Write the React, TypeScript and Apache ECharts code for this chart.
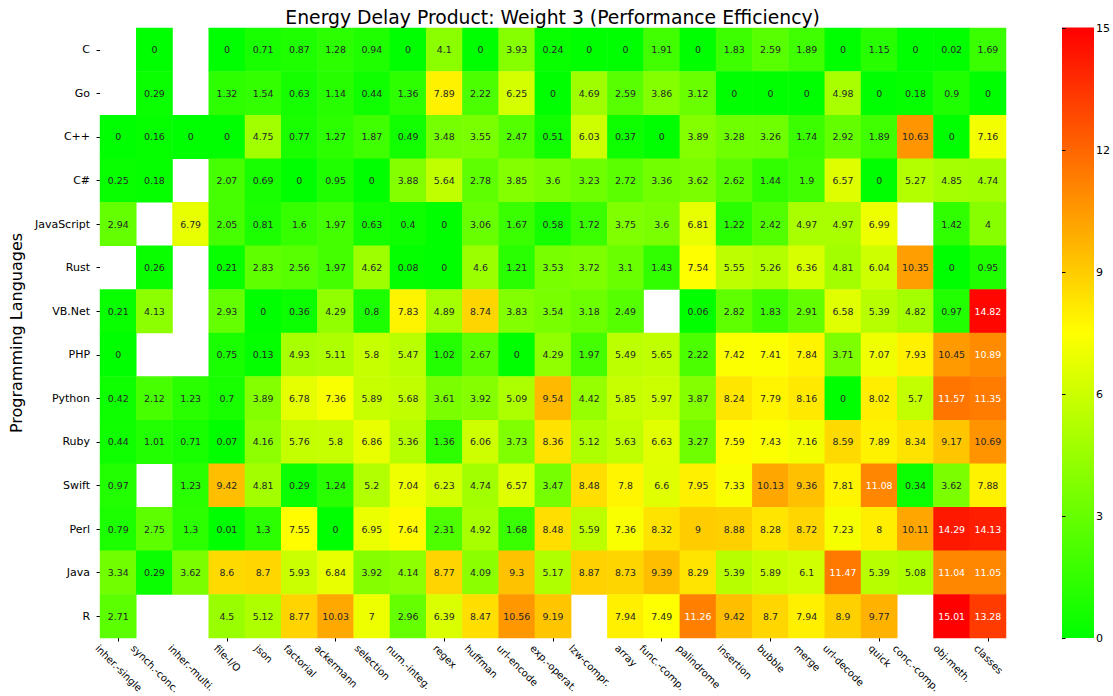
import React, { useEffect, useRef } from 'react';
import * as echarts from 'echarts';

const FONT = 'DejaVu Sans';

const languages = ['C', 'Go', 'C++', 'C#', 'JavaScript', 'Rust', 'VB.Net', 'PHP', 'Python', 'Ruby', 'Swift', 'Perl', 'Java', 'R'];

const benchmarks = [
  'inher.-single', 'synch.-conc.', 'inher.-multi.', 'file-I/O', 'json', 'factorial', 'ackermann',
  'selection', 'num.-integ.', 'regex', 'huffman', 'url-encode', 'exp.-operat.', 'lzw-compr.',
  'array', 'func.-comp.', 'palindrome', 'insertion', 'bubble', 'merge', 'url-decode', 'quick',
  'conc.-comp.', 'obj-meth.', 'classes',
];

const rowC = [null, 0, null, 0, 0.71, 0.87, 1.28, 0.94, 0, 4.1, 0, 3.93, 0.24, 0, 0, 1.91, 0, 1.83, 2.59, 1.89, 0, 1.15, 0, 0.02, 1.69];
const rowGo = [null, 0.29, null, 1.32, 1.54, 0.63, 1.14, 0.44, 1.36, 7.89, 2.22, 6.25, 0, 4.69, 2.59, 3.86, 3.12, 0, 0, 0, 4.98, 0, 0.18, 0.9, 0];
const rowCpp = [0, 0.16, 0, 0, 4.75, 0.77, 1.27, 1.87, 0.49, 3.48, 3.55, 2.47, 0.51, 6.03, 0.37, 0, 3.89, 3.28, 3.26, 1.74, 2.92, 1.89, 10.63, 0, 7.16];
const rowCs = [0.25, 0.18, null, 2.07, 0.69, 0, 0.95, 0, 3.88, 5.64, 2.78, 3.85, 3.6, 3.23, 2.72, 3.36, 3.62, 2.62, 1.44, 1.9, 6.57, 0, 5.27, 4.85, 4.74];
const rowJs = [2.94, null, 6.79, 2.05, 0.81, 1.6, 1.97, 0.63, 0.4, 0, 3.06, 1.67, 0.58, 1.72, 3.75, 3.6, 6.81, 1.22, 2.42, 4.97, 4.97, 6.99, null, 1.42, 4];
const rowRust = [null, 0.26, null, 0.21, 2.83, 2.56, 1.97, 4.62, 0.08, 0, 4.6, 1.21, 3.53, 3.72, 3.1, 1.43, 7.54, 5.55, 5.26, 6.36, 4.81, 6.04, 10.35, 0, 0.95];
const rowVb = [0.21, 4.13, null, 2.93, 0, 0.36, 4.29, 0.8, 7.83, 4.89, 8.74, 3.83, 3.54, 3.18, 2.49, null, 0.06, 2.82, 1.83, 2.91, 6.58, 5.39, 4.82, 0.97, 14.82];
const rowPhp = [0, null, null, 0.75, 0.13, 4.93, 5.11, 5.8, 5.47, 1.02, 2.67, 0, 4.29, 1.97, 5.49, 5.65, 2.22, 7.42, 7.41, 7.84, 3.71, 7.07, 7.93, 10.45, 10.89];
const rowPython = [0.42, 2.12, 1.23, 0.7, 3.89, 6.78, 7.36, 5.89, 5.68, 3.61, 3.92, 5.09, 9.54, 4.42, 5.85, 5.97, 3.87, 8.24, 7.79, 8.16, 0, 8.02, 5.7, 11.57, 11.35];
const rowRuby = [0.44, 1.01, 0.71, 0.07, 4.16, 5.76, 5.8, 6.86, 5.36, 1.36, 6.06, 3.73, 8.36, 5.12, 5.63, 6.63, 3.27, 7.59, 7.43, 7.16, 8.59, 7.89, 8.34, 9.17, 10.69];
const rowSwift = [0.97, null, 1.23, 9.42, 4.81, 0.29, 1.24, 5.2, 7.04, 6.23, 4.74, 6.57, 3.47, 8.48, 7.8, 6.6, 7.95, 7.33, 10.13, 9.36, 7.81, 11.08, 0.34, 3.62, 7.88];
const rowPerl = [0.79, 2.75, 1.3, 0.01, 1.3, 7.55, 0, 6.95, 7.64, 2.31, 4.92, 1.68, 8.48, 5.59, 7.36, 8.32, 9, 8.88, 8.28, 8.72, 7.23, 8, 10.11, 14.29, 14.13];
const rowJava = [3.34, 0.29, 3.62, 8.6, 8.7, 5.93, 6.84, 3.92, 4.14, 8.77, 4.09, 9.3, 5.17, 8.87, 8.73, 9.39, 8.29, 5.39, 5.89, 6.1, 11.47, 5.39, 5.08, 11.04, 11.05];
const rowR = [2.71, null, null, 4.5, 5.12, 8.77, 10.03, 7, 2.96, 6.39, 8.47, 10.56, 9.19, null, 7.94, 7.49, 11.26, 9.42, 8.7, 7.94, 8.9, 9.77, null, 15.01, 13.28];

const values: (number | null)[][] = [rowC, rowGo, rowCpp, rowCs, rowJs, rowRust, rowVb, rowPhp, rowPython, rowRuby, rowSwift, rowPerl, rowJava, rowR];

const colorbarTicks = [0, 3, 6, 9, 12, 15];
const colorStops = ['#00ff00', '#ffff00', '#ff0000'];
const colorMax = 15.01;

export default function App() {
  const ref = useRef<HTMLDivElement>(null);

  useEffect(() => {
    const el = ref.current!;
    const chart = echarts.init(el, null, { renderer: 'svg' });

    const data: any[] = [];
    values.forEach((row, r) =>
      row.forEach((v, c) => {
        if (v !== null) {
          data.push({ value: [c, r, v], label: { color: v > 10.8 ? '#ffffff' : '#262626' } });
        }
      })
    );

    const gridLeft = 89.3;
    const gridTop = 28;
    const gridW = 916.7;
    const gridH = 610;
    const cbLeft = 1062;
    const cbW = 32;
    const tickFs = 11;

    chart.setOption({
      animation: false,
      title: {
        text: 'Energy Delay Product: Weight 3 (Performance Efficiency)',
        left: gridLeft + gridW / 2,
        textAlign: 'center',
        top: 1,
        textStyle: { fontFamily: FONT, fontSize: 18.8, fontWeight: 'normal', color: '#000', lineHeight: 22 },
      },
      grid: [
        { left: gridLeft, top: gridTop, width: gridW, height: gridH },
        { left: cbLeft, top: gridTop, width: cbW, height: gridH },
      ],
      xAxis: [
        {
          type: 'category',
          gridIndex: 0,
          data: benchmarks,
          axisLine: { show: false },
          axisTick: { show: true, length: 3.5, alignWithLabel: true, lineStyle: { color: '#000' } },
          axisLabel: { show: false },
          splitLine: { show: false },
        },
        { type: 'value', gridIndex: 1, show: false },
      ],
      yAxis: [
        {
          type: 'category',
          gridIndex: 0,
          data: languages,
          inverse: true,
          axisLine: { show: false },
          axisTick: { show: true, length: 3.5, alignWithLabel: true, lineStyle: { color: '#000' } },
          axisLabel: { fontFamily: FONT, fontSize: tickFs, color: '#000', margin: 10 },
          splitLine: { show: false },
          name: 'Programming Languages',
          nameLocation: 'middle',
          nameGap: 64,
          nameTextStyle: { fontFamily: FONT, fontSize: 16, color: '#000' },
        },
        {
          type: 'value',
          gridIndex: 1,
          position: 'right',
          min: colorbarTicks[0],
          max: colorbarTicks[colorbarTicks.length - 1],
          interval: 3,
          axisLine: { show: false },
          axisTick: { show: true, length: 3.5, lineStyle: { color: '#000' } },
          axisLabel: { fontFamily: FONT, fontSize: tickFs, color: '#000', margin: 7 },
          splitLine: { show: false },
        },
      ],
      visualMap: {
        type: 'continuous',
        show: false,
        min: 0,
        max: colorMax,
        seriesIndex: 0,
        inRange: { color: colorStops },
      },
      series: [
        {
          type: 'heatmap',
          xAxisIndex: 0,
          yAxisIndex: 0,
          data,
          label: {
            show: true,
            fontFamily: FONT,
            fontSize: 9.4,
            formatter: (p: any) => String(p.value[2]),
          },
          itemStyle: { borderWidth: 0 },
          emphasis: { disabled: true },
        },
      ],
    });

    // colour bar drawn against the colour-bar axis
    const yBottom = chart.convertToPixel({ yAxisIndex: 1 }, 0) as number;
    const yTopCb = chart.convertToPixel({ yAxisIndex: 1 }, colorMax) as number;
    const colorbar = {
      type: 'rect',
      silent: true,
      z: -1,
      shape: { x: cbLeft, y: yTopCb, width: cbW, height: yBottom - yTopCb },
      style: {
        fill: new echarts.graphic.LinearGradient(0, 1, 0, 0, colorStops.map((c, i) => ({
          offset: i / (colorStops.length - 1),
          color: c,
        }))),
      },
    };

    // rotated x labels, centred on ticks like matplotlib (ha=center, va=top, rotation=-45)
    const fs = 10;
    const canvas = document.createElement('canvas');
    const ctx = canvas.getContext('2d')!;
    ctx.font = `${fs}px "${FONT}"`;
    const H = fs * 1.17;
    const yTop = gridTop + gridH + 5;
    const labels = benchmarks.map((name, i) => {
      const px = chart.convertToPixel({ xAxisIndex: 0 }, i) as number;
      const W = ctx.measureText(name).width;
      const x = px - 0.3536 * (W - H);
      return {
        type: 'text',
        x,
        y: yTop,
        rotation: -Math.PI / 4,
        silent: true,
        style: { text: name, fontFamily: FONT, fontSize: fs, fill: '#000', align: 'left', verticalAlign: 'top' },
      };
    });
    chart.setOption({ graphic: [colorbar, ...labels] });

    return () => chart.dispose();
  }, []);

  return (
    <div
      ref={ref}
      style={{ position: 'fixed', left: 0, top: 0, width: 1113, height: 696, background: '#fff' }}
    />
  );
}
